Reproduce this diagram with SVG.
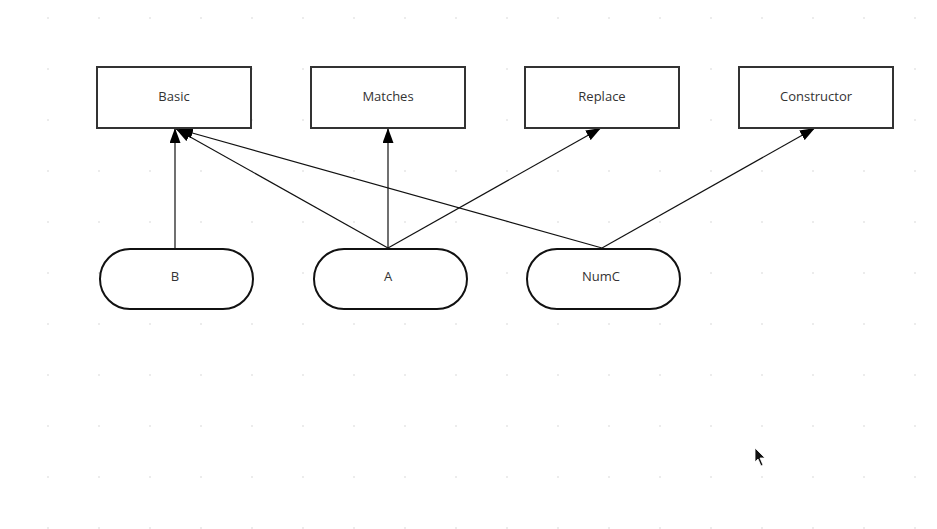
<svg xmlns="http://www.w3.org/2000/svg" width="937" height="529" viewBox="0 0 937 529">
<defs>
<pattern id="grid" x="0" y="0" width="51" height="51" patternUnits="userSpaceOnUse" patternTransform="translate(-2.5,-32.5)">
<rect x="50" y="50" width="2" height="2" fill="#b4b4b4"/>
</pattern>
<marker id="arr" viewBox="0 0 15 11" refX="15" refY="5.5" markerWidth="15" markerHeight="11" markerUnits="userSpaceOnUse" orient="auto">
<path d="M0,0 L15,5.5 L0,11 Z" fill="#000"/>
</marker>
<style>
.box{fill:#fff;stroke:#333;stroke-width:2}
.pill{fill:#fff;stroke:#111;stroke-width:2}
.lbl{font-family:"Open Sans","Liberation Sans",sans-serif;font-size:13px;fill:#333;text-anchor:middle;dominant-baseline:central}
.edge{stroke:#111;stroke-width:1.2;fill:none;marker-end:url(#arr)}
</style>
</defs>
<rect width="937" height="529" fill="#fff"/>
<rect width="937" height="529" fill="url(#grid)"/>
<g id="connectors">
<line class="edge" x1="175" y1="248" x2="175" y2="128"/>
<line class="edge" x1="388" y1="248" x2="176" y2="129"/>
<line class="edge" x1="388" y1="248" x2="388" y2="128"/>
<line class="edge" x1="388" y1="248" x2="601" y2="128"/>
<line class="edge" x1="602" y1="248" x2="178" y2="129"/>
<line class="edge" x1="602" y1="248" x2="815" y2="128"/>
</g>
<g id="Basic"><rect class="box" x="97" y="67" width="154" height="61"/><text class="lbl" x="174" y="96">Basic</text></g>
<g id="Matches"><rect class="box" x="311" y="67" width="154" height="61"/><text class="lbl" x="388" y="96">Matches</text></g>
<g id="Replace"><rect class="box" x="525" y="67" width="154" height="61"/><text class="lbl" x="602" y="96">Replace</text></g>
<g id="Constructor"><rect class="box" x="739" y="67" width="154" height="61"/><text class="lbl" x="816" y="96">Constructor</text></g>
<g id="B"><rect class="pill" x="100" y="249" width="153" height="60" rx="30" ry="30"/><text class="lbl" x="175" y="276">B</text></g>
<g id="A"><rect class="pill" x="314" y="249" width="153" height="60" rx="30" ry="30"/><text class="lbl" x="388" y="276">A</text></g>
<g id="NumC"><rect class="pill" x="527" y="249" width="153" height="60" rx="30" ry="30"/><text class="lbl" x="601" y="276">NumC</text></g>
<path d="M755,448 L755,462 L758,459 L761,466 L763,465 L760,458 L765,458 Z" fill="#111" stroke="#fff" stroke-width="0.8"/>
</svg>
